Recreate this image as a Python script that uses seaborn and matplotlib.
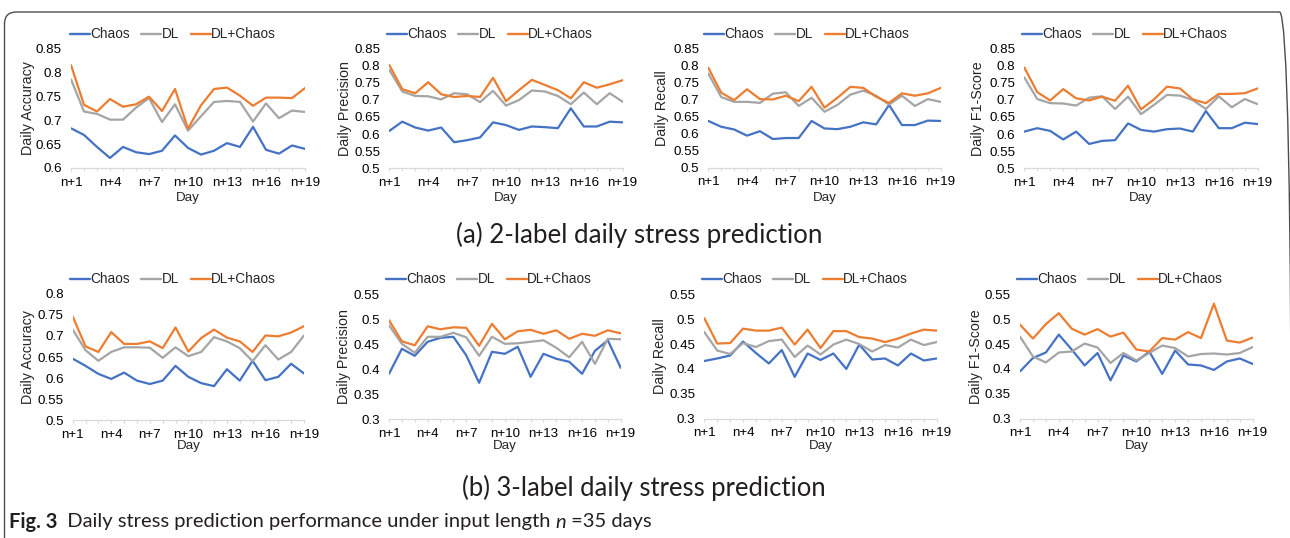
import numpy as np
import pandas as pd
import matplotlib
matplotlib.use("Agg")
import matplotlib.pyplot as plt
import seaborn as sns
from matplotlib.patches import FancyBboxPatch
from matplotlib.transforms import IdentityTransform

# ---------------- data ----------------
days = [f"n+{i}" for i in range(1, 20)]
series_names = ["Chaos", "DL", "DL+Chaos"]
colors = ["#4472C4", "#A5A5A5", "#ED7D31"]

# (a) 2-label
acc2_chaos = [0.683, 0.669, 0.644, 0.621, 0.644, 0.633, 0.629, 0.636, 0.668, 0.642, 0.628, 0.636, 0.652, 0.644, 0.686, 0.638, 0.630, 0.647, 0.640]
acc2_dl    = [0.785, 0.718, 0.713, 0.701, 0.701, 0.726, 0.746, 0.696, 0.733, 0.678, 0.708, 0.738, 0.740, 0.738, 0.697, 0.735, 0.704, 0.720, 0.717]
acc2_dlc   = [0.815, 0.732, 0.718, 0.744, 0.728, 0.733, 0.749, 0.719, 0.765, 0.682, 0.731, 0.765, 0.768, 0.751, 0.730, 0.747, 0.747, 0.746, 0.767]

prec2_chaos = [0.609, 0.636, 0.619, 0.610, 0.619, 0.576, 0.582, 0.590, 0.634, 0.626, 0.612, 0.622, 0.620, 0.617, 0.675, 0.622, 0.622, 0.636, 0.634]
prec2_dl    = [0.787, 0.724, 0.711, 0.710, 0.701, 0.719, 0.716, 0.693, 0.726, 0.683, 0.699, 0.727, 0.724, 0.711, 0.687, 0.721, 0.687, 0.719, 0.694]
prec2_dlc   = [0.801, 0.731, 0.719, 0.751, 0.716, 0.708, 0.711, 0.708, 0.764, 0.696, 0.728, 0.758, 0.743, 0.728, 0.704, 0.751, 0.735, 0.745, 0.757]

rec2_chaos = [0.637, 0.620, 0.612, 0.594, 0.607, 0.584, 0.587, 0.587, 0.637, 0.615, 0.613, 0.620, 0.633, 0.627, 0.684, 0.625, 0.625, 0.638, 0.637]
rec2_dl    = [0.776, 0.707, 0.693, 0.693, 0.690, 0.717, 0.721, 0.681, 0.705, 0.664, 0.684, 0.714, 0.726, 0.711, 0.685, 0.711, 0.681, 0.701, 0.693]
rec2_dlc   = [0.793, 0.720, 0.698, 0.730, 0.701, 0.700, 0.711, 0.695, 0.737, 0.676, 0.705, 0.737, 0.734, 0.708, 0.690, 0.718, 0.711, 0.718, 0.734]

f12_chaos = [0.607, 0.617, 0.609, 0.584, 0.607, 0.571, 0.580, 0.582, 0.631, 0.612, 0.607, 0.614, 0.616, 0.607, 0.667, 0.617, 0.617, 0.633, 0.629]
f12_dl    = [0.765, 0.702, 0.690, 0.689, 0.683, 0.706, 0.710, 0.673, 0.709, 0.658, 0.685, 0.714, 0.712, 0.699, 0.673, 0.710, 0.678, 0.702, 0.687]
f12_dlc   = [0.794, 0.722, 0.698, 0.731, 0.704, 0.698, 0.709, 0.697, 0.741, 0.672, 0.701, 0.738, 0.733, 0.701, 0.690, 0.717, 0.717, 0.719, 0.733]

# (b) 3-label
acc3_chaos = [0.646, 0.629, 0.610, 0.598, 0.613, 0.594, 0.586, 0.594, 0.629, 0.603, 0.588, 0.581, 0.621, 0.594, 0.641, 0.595, 0.603, 0.634, 0.611]
acc3_dl    = [0.715, 0.666, 0.641, 0.662, 0.673, 0.673, 0.672, 0.648, 0.673, 0.652, 0.662, 0.697, 0.687, 0.671, 0.640, 0.678, 0.644, 0.662, 0.701]
acc3_dlc   = [0.746, 0.675, 0.662, 0.709, 0.681, 0.681, 0.687, 0.671, 0.720, 0.663, 0.695, 0.715, 0.696, 0.687, 0.662, 0.701, 0.699, 0.708, 0.723]

prec3_chaos = [0.391, 0.441, 0.427, 0.455, 0.463, 0.465, 0.428, 0.373, 0.435, 0.431, 0.445, 0.385, 0.431, 0.421, 0.415, 0.391, 0.437, 0.458, 0.403]
prec3_dl    = [0.488, 0.451, 0.433, 0.465, 0.465, 0.473, 0.464, 0.427, 0.465, 0.451, 0.452, 0.455, 0.458, 0.443, 0.424, 0.455, 0.411, 0.461, 0.460]
prec3_dlc   = [0.498, 0.456, 0.448, 0.486, 0.480, 0.484, 0.483, 0.447, 0.491, 0.460, 0.476, 0.479, 0.471, 0.478, 0.461, 0.471, 0.467, 0.478, 0.472]

rec3_chaos = [0.416, 0.421, 0.427, 0.455, 0.432, 0.411, 0.438, 0.384, 0.431, 0.418, 0.431, 0.400, 0.449, 0.419, 0.421, 0.407, 0.431, 0.417, 0.421]
rec3_dl    = [0.474, 0.437, 0.430, 0.452, 0.444, 0.456, 0.459, 0.424, 0.447, 0.429, 0.449, 0.459, 0.450, 0.435, 0.448, 0.443, 0.459, 0.448, 0.454]
rec3_dlc   = [0.502, 0.451, 0.452, 0.481, 0.477, 0.477, 0.483, 0.449, 0.479, 0.442, 0.476, 0.476, 0.464, 0.461, 0.454, 0.461, 0.471, 0.479, 0.477]

f13_chaos = [0.395, 0.422, 0.433, 0.469, 0.439, 0.407, 0.432, 0.377, 0.427, 0.415, 0.435, 0.390, 0.437, 0.409, 0.407, 0.398, 0.415, 0.421, 0.410]
f13_dl    = [0.465, 0.425, 0.413, 0.433, 0.435, 0.451, 0.443, 0.412, 0.432, 0.417, 0.432, 0.447, 0.442, 0.425, 0.430, 0.431, 0.429, 0.432, 0.444]
f13_dlc   = [0.489, 0.461, 0.490, 0.512, 0.481, 0.469, 0.480, 0.465, 0.473, 0.439, 0.435, 0.462, 0.459, 0.474, 0.462, 0.531, 0.457, 0.453, 0.463]

yticks_acc2 = [0.6, 0.65, 0.7, 0.75, 0.8, 0.85]
yticks_m2 = [0.5, 0.55, 0.6, 0.65, 0.7, 0.75, 0.8, 0.85]
yticks_acc3 = [0.5, 0.55, 0.6, 0.65, 0.7, 0.75, 0.8]
yticks_m3 = [0.3, 0.35, 0.4, 0.45, 0.5, 0.55]

ylabels = ["Daily Accuracy", "Daily Precision", "Daily Recall", "Daily F1-Score"] * 2
panel_data = [
    (acc2_chaos, acc2_dl, acc2_dlc), (prec2_chaos, prec2_dl, prec2_dlc),
    (rec2_chaos, rec2_dl, rec2_dlc), (f12_chaos, f12_dl, f12_dlc),
    (acc3_chaos, acc3_dl, acc3_dlc), (prec3_chaos, prec3_dl, prec3_dlc),
    (rec3_chaos, rec3_dl, rec3_dlc), (f13_chaos, f13_dl, f13_dlc),
]
panel_yticks = [yticks_acc2, yticks_m2, yticks_m2, yticks_m2,
                yticks_acc3, yticks_m3, yticks_m3, yticks_m3]

subtitle_a = "(a) 2-label daily stress prediction"
subtitle_b = "(b) 3-label daily stress prediction"

# ---------------- style ----------------
sns.set_theme(style="white")
plt.rcParams["font.family"] = ["Liberation Sans", "DejaVu Sans"]

W, H = 1290, 538
fig = plt.figure(figsize=(W / 100, H / 100), dpi=100)
fig.patch.set_facecolor("white")

# layout in pixels: (x0, y0_top, x1, y1_bottom), legend centre, ylabel x, Day y
layout = [
    ((71.0, 48.3, 305.0, 168.0), (173, 34.3), 28, 198),
    ((389.3, 48.3, 622.7, 168.3), (490, 34.3), 345, 198),
    ((708.3, 48.3, 940.7, 167.7), (807, 34.3), 662, 198),
    ((1024.3, 48.3, 1257.7, 168.3), (1125, 34.3), 978, 198),
    ((72.7, 293.7, 304.0, 420.3), (173, 279.3), 28, 446),
    ((389.0, 294.3, 620.7, 419.3), (489, 279.3), 344, 446),
    ((704.3, 294.3, 936.7, 418.7), (805, 279.3), 660, 446),
    ((1020.0, 294.3, 1252.7, 418.7), (1120, 279.3), 976, 446),
]

palette = dict(zip(series_names, colors))
idx = np.arange(len(days))

for (box, leg_c, ylab_x, day_y), vals, yt, ylab in zip(layout, panel_data, panel_yticks, ylabels):
    x0, y0, x1, y1 = box
    ax = fig.add_axes([x0 / W, 1 - y1 / H, (x1 - x0) / W, (y1 - y0) / H])
    df = pd.DataFrame({
        "idx": np.tile(idx, 3),
        "value": np.concatenate([np.asarray(v) for v in vals]),
        "series": np.repeat(series_names, len(days)),
    })
    sns.lineplot(data=df, x="idx", y="value", hue="series", hue_order=series_names,
                 palette=palette, linewidth=1.6, ax=ax, legend=True)
    handles, labels = ax.get_legend_handles_labels()
    ax.get_legend().remove()
    for h in handles:
        h.set_linewidth(1.7)
    ax.legend(handles, labels, loc="center",
              bbox_to_anchor=(leg_c[0] / W, 1 - leg_c[1] / H),
              bbox_transform=fig.transFigure, ncol=3, frameon=False,
              fontsize=9.8, handlelength=1.45, handletextpad=0.05,
              columnspacing=0.85, borderpad=0, borderaxespad=0)

    ax.set_xlim(0, len(days) - 1)
    ax.set_ylim(yt[0], yt[-1])
    ax.set_yticks(yt)
    ax.set_yticklabels([f"{v:g}" for v in yt])
    ax.set_xticks(idx)
    ax.set_xticklabels([d if i % 3 == 0 else "" for i, d in enumerate(days)])
    ax.tick_params(axis="x", length=2.3, width=0.8, color="#D9D9D9",
                   labelsize=9.6, pad=4.0, labelcolor="black", bottom=True)
    ax.tick_params(axis="y", length=0, labelsize=9.6, pad=6.5, labelcolor="black")
    for s in ["left", "top", "right"]:
        ax.spines[s].set_visible(False)
    ax.spines["bottom"].set_color("#D9D9D9")
    ax.spines["bottom"].set_linewidth(0.9)
    ax.grid(False)
    ax.set_xlabel("")
    ax.set_ylabel(ylab, fontsize=10.3, va="center")
    ax.yaxis.set_label_coords(-(x0 - ylab_x) / (x1 - x0), 0.5)
    fig.text((x0 + x1) / 2 / W, 1 - day_y / H, "Day", ha="center", va="center",
             fontsize=9.6)

# ---------------- texts ----------------
renderer = fig.canvas.get_renderer()


def fitted_text(xc, yc, s, target_w, ha="center", **kw):
    t = fig.text(xc / W, 1 - yc / H, s, ha=ha, va="center", fontsize=15, **kw)
    w = t.get_window_extent(renderer).width
    t.set_fontsize(15 * target_w / w)
    return t


fitted_text(639, 235, subtitle_a, 367, family=["Lato", "DejaVu Sans"], color="#231F20")
fitted_text(644, 488, subtitle_b, 364, family=["Lato", "DejaVu Sans"], color="#231F20")

# caption made of pieces
pieces = [("Fig. 3", "bold", "normal"),
          ("  Daily stress prediction performance under input length ", "normal", "normal"),
          ("n", "normal", "italic"),
          (" =35 days", "normal", "normal")]
cap_left, cap_right, cap_y = 8.7, 652, 522


def draw_caption(size):
    xs = cap_left
    arts = []
    for txt, wgt, sty in pieces:
        t = fig.text(xs / W, 1 - cap_y / H, txt, ha="left", va="center",
                     fontsize=size, fontweight=wgt, fontstyle=sty,
                     family=["Lato", "DejaVu Sans"], color="#231F20")
        w = t.get_window_extent(renderer).width
        xs += w
        arts.append(t)
    return arts, xs


arts, end = draw_caption(11)
for a in arts:
    a.remove()
size = 11 * (cap_right - cap_left) / (end - cap_left)
draw_caption(size)

# rounded frame
frame = FancyBboxPatch((4.5, -40), 1291.5 - 4.5, 526 + 40,
                       boxstyle="round,pad=0,rounding_size=12",
                       transform=IdentityTransform(), fill=False,
                       edgecolor="#4D4D4D", linewidth=1.0)
fig.add_artist(frame)

fig.savefig("out.png", dpi=100, facecolor="white")
